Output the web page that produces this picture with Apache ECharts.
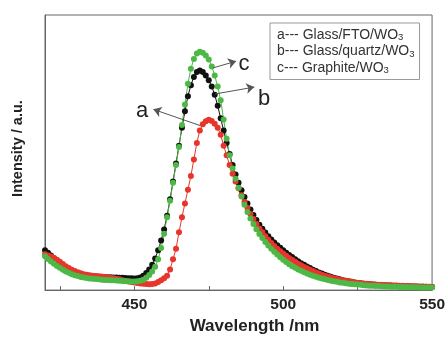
<!DOCTYPE html>
<html><head><meta charset="utf-8">
<script src="https://cdn.jsdelivr.net/npm/echarts@6/dist/echarts.min.js"></script>
<style>html,body{margin:0;padding:0;background:#fff}#c{width:448px;height:340px}</style>
</head><body><div id="c"></div>
<script>
// Wavelength (nm)
const wavelengths = [
420,421,422,423,424,425,426,427,428,429,
430,431,432,433,434,435,436,437,438,439,
440,441,442,443,444,445,446,447,448,449,
450,451,452,453,454,455,456,457,458,459,
460,461,462,463,464,465,466,467,468,469,
470,471,472,473,474,475,476,477,478,479,
480,481,482,483,484,485,486,487,488,489,
490,491,492,493,494,495,496,497,498,499,
500,501,502,503,504,505,506,507,508,509,
510,511,512,513,514,515,516,517,518,519,
520,521,522,523,524,525,526,527,528,529,
530,531,532,533,534,535,536,537,538,539,
540,541,542,543,544,545,546,547,548,549,
550];
// a: Glass/FTO/WO3 (red)
const intensityA = [
13,12.6,12.2,11.7,11,10.3,9.5,8.7,8,7.4,
6.9,6.5,6.1,5.8,5.6,5.4,5.2,5.1,5.0,4.9,
4.8,4.7,4.5,4.3,4.1,3.9,3.6,3.3,3.1,2.9,
2.8,2.6,2.4,2.3,2.2,2.1,2.2,2.4,2.9,3.6,
4.3,5.2,7.5,11.2,15,21,26.5,31.5,36.5,41.5,
47.5,53.5,58,60.3,61.4,61.9,61.5,60.5,59,56.5,
52.5,49,45.5,42.3,39.5,37,34.5,32,29.8,27.7,
25.8,24,22.4,21,19.6,18.3,17.1,16,15,14.1,
13.3,12.5,11.7,11,10.3,9.6,9,8.4,7.9,7.4,
6.9,6.4,6.0,5.6,5.2,4.9,4.6,4.3,4.0,3.8,
3.6,3.4,3.2,3.0,2.8,2.7,2.5,2.4,2.3,2.2,
2.1,2.0,1.95,1.9,1.85,1.8,1.75,1.7,1.65,1.6,
1.55,1.5,1.45,1.4,1.37,1.34,1.3,1.27,1.24,1.2,
1.18];
// b: Glass/quartz/WO3 (black)
const intensityB = [
14.5,13.6,12.6,11.6,10.6,9.6,8.8,8.1,7.4,6.8,
6.3,5.9,5.6,5.4,5.2,5.1,5.0,4.9,4.85,4.8,
4.75,4.7,4.65,4.6,4.55,4.5,4.45,4.4,4.35,4.3,
4.25,4.3,4.6,5.2,6.2,7.5,9.2,11.5,14.5,18,
22,27,33,39.5,46,52.5,59,65,70.5,74.5,
77.5,79.3,79.8,79.3,78,76.3,74,71,67,62.5,
58,53.5,49.5,45.5,42,39,36.3,33.8,31.5,29.3,
27.3,25.5,23.8,22.3,20.9,19.6,18.4,17.3,16.3,15.4,
14.5,13.6,12.8,12,11.2,10.5,9.8,9.2,8.6,8.0,
7.4,6.9,6.4,6.0,5.6,5.2,4.85,4.5,4.2,3.9,
3.6,3.4,3.2,3.0,2.8,2.6,2.5,2.35,2.2,2.1,
2.0,1.9,1.85,1.8,1.75,1.7,1.65,1.6,1.55,1.5,
1.45,1.4,1.38,1.35,1.3,1.28,1.25,1.2,1.18,1.15,
1.12];
// c: Graphite/WO3 (green)
const intensityC = [
12.3,11.3,10.4,9.6,8.8,8.1,7.4,6.8,6.3,5.8,
5.4,5.1,4.8,4.6,4.4,4.2,4.1,4.0,3.9,3.8,
3.7,3.65,3.6,3.55,3.5,3.4,3.35,3.3,3.2,3.15,
3.1,3.2,3.4,3.8,4.5,5.5,6.8,8.5,11.2,15.3,
20.5,26.5,32.5,39,45.5,52,60,67.5,75,80.5,
84,86,86.6,86.3,85.3,83.8,81.3,78,74,69,
62,55,49,44.2,40.5,37.2,34,31,28.4,26,
24,22.1,20.4,18.9,17.5,16.2,15,13.9,12.9,11.9,
11,10.2,9.4,8.7,8.1,7.5,7.0,6.5,6.0,5.6,
5.2,4.85,4.5,4.2,3.9,3.65,3.4,3.2,3.0,2.8,
2.65,2.5,2.35,2.2,2.1,2.0,1.9,1.8,1.7,1.62,
1.55,1.5,1.45,1.4,1.35,1.3,1.26,1.22,1.18,1.15,
1.12,1.1,1.08,1.05,1.03,1.0,0.98,0.96,0.94,0.92,
0.9];

const seriesNames = ['Glass/FTO/WO3', 'Glass/quartz/WO3', 'Graphite/WO3'];
const legendPrefixes = ['a--- ', 'b--- ', 'c--- '];
const xLabelValues = [450, 500, 550];
const xTickValues = [425, 450, 475, 500, 525];
const curveLetters = ['a', 'b', 'c'];
// annotation arrows in data units: [from (on curve), to (towards letter)]
const arrowFrom = [[472.1, 59.8], [477.2, 71.3], [476.5, 80.8]];
const arrowTo   = [[456.4, 65.7], [490.3, 73.8], [484.2, 83.2]];
const letterAt  = [[452.6, 65.0], [493.6, 69.6], [486.8, 82.3]];

const FONT = '"Liberation Sans", Arial, Helvetica, sans-serif';
const colors = ['#e8352c', '#111111', '#4cb846'];
const dataSets = [intensityA, intensityB, intensityC];

function pairs(vals) { return wavelengths.map((w, i) => [w, vals[i]]); }

const drawOrder = [1, 0, 2]; // black, red, green on top
const series = drawOrder.map(k => ({
  name: seriesNames[k],
  type: 'line',
  data: pairs(dataSets[k]),
  symbol: 'circle',
  symbolSize: 6,
  showSymbol: true,
  lineStyle: { color: colors[k], width: 1 },
  itemStyle: { color: colors[k] },
  emphasis: { disabled: true },
  animation: false,
  clip: true
}));

series.push({
  name: 'annotations',
  type: 'line',
  data: [],
  silent: true,
  animation: false,
  z: 5,
  itemStyle: { color: '#555' },
  markLine: {
    silent: true,
    animation: false,
    symbol: ['none', 'arrow'],
    symbolSize: 8,
    label: { show: false },
    lineStyle: { color: '#555', width: 1, type: 'solid' },
    itemStyle: { color: '#555' },
    emphasis: { disabled: true },
    data: arrowFrom.map((f, i) => [
      { coord: f, symbol: 'none' },
      { coord: arrowTo[i], symbol: 'arrow', symbolSize: 8, itemStyle: { color: '#555' } }
    ])
  },
  markPoint: {
    silent: true,
    animation: false,
    symbol: 'circle',
    symbolSize: 1,
    itemStyle: { color: 'rgba(0,0,0,0)' },
    label: { show: true, position: 'inside', formatter: '{b}', fontFamily: FONT, fontSize: 22, color: '#222' },
    data: letterAt.map((p, i) => ({ name: curveLetters[i], coord: p }))
  }
});

const chart = echarts.init(document.getElementById('c'), null, { renderer: 'canvas' });
chart.setOption({
  animation: false,
  backgroundColor: '#fff',
  grid: { left: 45, right: 15, top: 15, bottom: 39, show: true, borderColor: '#666', borderWidth: 1, backgroundColor: 'transparent' },
  legend: {
    data: seriesNames,
    orient: 'vertical',
    left: 270, top: 23,
    padding: [5, 5, 4, 2],
    itemGap: 2,
    itemWidth: 0, itemHeight: 0,
    icon: 'rect',
    selectedMode: false,
    borderColor: '#999', borderWidth: 1,
    formatter: name => {
      const i = seriesNames.indexOf(name);
      return '{m|' + legendPrefixes[i] + name.slice(0, -1) + '}{s|' + name.slice(-1) + '}';
    },
    textStyle: {
      fontFamily: FONT, color: '#333',
      rich: {
        m: { fontFamily: FONT, fontSize: 14, color: '#333', lineHeight: 15 },
        s: { fontFamily: FONT, fontSize: 9.5, color: '#333', lineHeight: 9, verticalAlign: 'bottom' }
      }
    }
  },
  xAxis: {
    type: 'value',
    min: 420, max: 550,
    name: 'Wavelength /nm',
    nameLocation: 'middle',
    nameGap: 25,
    nameTextStyle: { fontFamily: FONT, fontSize: 17, fontWeight: 'bold', color: '#222', padding: [0, 0, 0, 32] },
    axisLine: { show: true, lineStyle: { color: '#666', width: 1 } },
    axisTick: { show: true, inside: true, length: 4, customValues: xTickValues, lineStyle: { color: '#666' } },
    axisLabel: { show: true, customValues: xLabelValues, margin: 7, fontFamily: FONT, fontSize: 15.5, fontWeight: 'bold', color: '#222' },
    splitLine: { show: false }
  },
  yAxis: {
    type: 'value',
    min: 0, max: 100,
    name: 'Intensity / a.u.',
    nameLocation: 'middle',
    nameGap: 20,
    nameTextStyle: { fontFamily: FONT, fontSize: 14.5, fontWeight: 'bold', color: '#222', padding: [0, 0, 0, 8] },
    axisLine: { show: true, lineStyle: { color: '#666', width: 1 } },
    axisTick: { show: false },
    axisLabel: { show: false },
    splitLine: { show: false }
  },
  series: series
});
</script>
</body></html>
